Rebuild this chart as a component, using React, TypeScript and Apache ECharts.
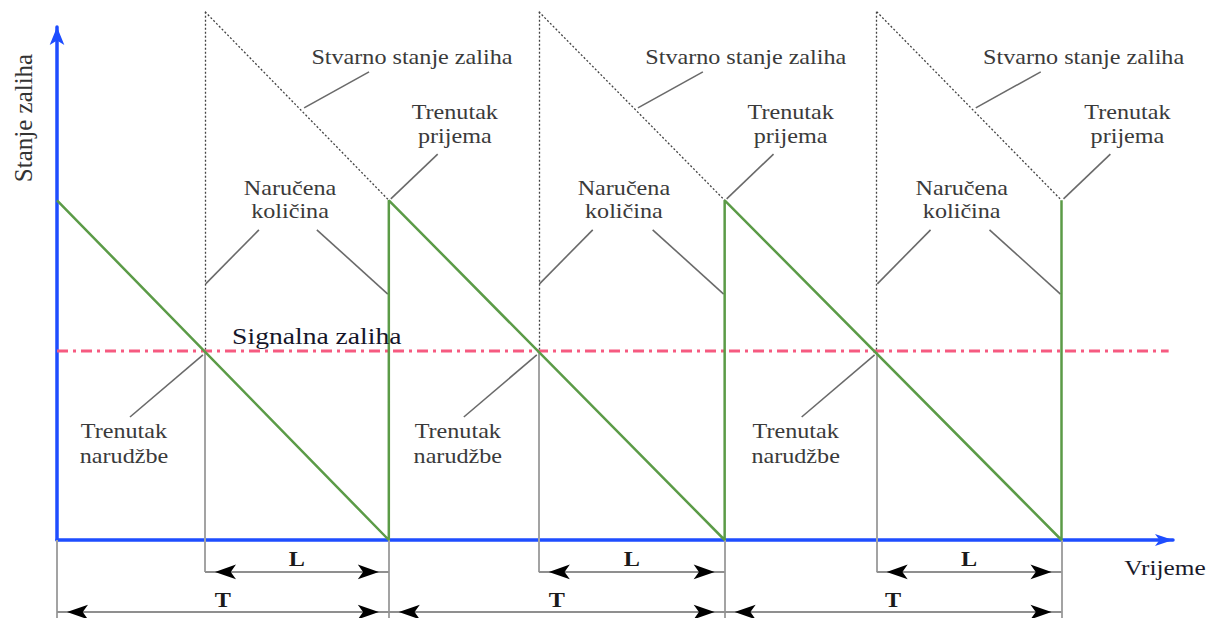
import React, { useEffect, useRef } from "react";
import * as echarts from "echarts";

// ---- data ----
const cycleStart = [0, 0.991, 1.994];
const cycleEnd = [0.991, 1.994, 3.0];
const orderTime = [0.442, 1.439, 2.448];
const orderQty = 100; // stock right after receipt
const reorderLevel = 55.6; // "Signalna zaliha"
const positionAfterOrder = 155.5; // stock + ordered quantity at order moment
const signalLineEnd = 3.32;
const xMax = 3.333;
const yMax = 151;
const leadArrowY = -9.4;
const cycleArrowY = -21.2;
const dimBottomY = -23;

// ---- texts ----
const yTitle = "Stanje zaliha";
const xTitle = "Vrijeme";
const txtActual = "Stvarno stanje zaliha";
const txtReceipt = ["Trenutak", "prijema"];
const txtOrdered = ["Naručena", "količina"];
const txtOrderMoment = ["Trenutak", "narudžbe"];
const txtSignal = "Signalna zaliha";
const txtLead = "L";
const txtCycle = "T";

const SERIF = "Liberation Serif, serif";

export default function App() {
  const ref = useRef<HTMLDivElement>(null);

  useEffect(() => {
    const chart = echarts.init(ref.current!, null, { renderer: "svg" });

    const green: number[][] = [[cycleStart[0], orderQty]];
    cycleEnd.forEach((e) => {
      green.push([e, 0]);
      green.push([e, orderQty]);
    });

    const dotted: any[] = [];
    const solidGray: any[] = [];
    const leaders: any[] = [];
    const dims: any[] = [];
    const leftHeads: number[][] = [];
    const rightHeads: number[][] = [];

    cycleStart.forEach((s, i) => {
      const o = orderTime[i];
      const e = cycleEnd[i];
      dotted.push({ coords: [[o, positionAfterOrder], [o, reorderLevel]] });
      dotted.push({ coords: [[o, positionAfterOrder], [e, orderQty]] });
      solidGray.push({ coords: [[o, reorderLevel], [o, leadArrowY]] });
      solidGray.push({ coords: [[s, 0], [s, dimBottomY]] });
      solidGray.push({ coords: [[e, 0], [e, dimBottomY]] });
      leaders.push({ coords: [[o + 0.49, 137.8], [o + 0.296, 127.2]] });
      leaders.push({ coords: [[e + 0.146, 113.6], [e + 0.006, 100.4]] });
      leaders.push({ coords: [[o + 0.161, 91.3], [o + 0.002, 75.4]] });
      leaders.push({ coords: [[e - 0.215, 91.3], [e - 0.003, 72.4]] });
      leaders.push({ coords: [[o - 0.224, 36.2], [o - 0.006, 54.5]] });
      dims.push({ coords: [[o, leadArrowY], [e, leadArrowY]] });
      dims.push({ coords: [[s, cycleArrowY], [e, cycleArrowY]] });
      leftHeads.push([o, leadArrowY], [s, cycleArrowY]);
      rightHeads.push([e, leadArrowY], [e, cycleArrowY]);
    });

    const linesSeries = (data: any[], color: string, width: number, type: any, z = 2) => ({
      type: "lines",
      coordinateSystem: "cartesian2d",
      clip: false,
      silent: true,
      z,
      symbol: "none",
      lineStyle: { color, width, type, opacity: 1, curveness: 0 },
      data,
    });

    const blue = "#1e4dff";

    chart.setOption({
      animation: false,
      grid: { left: 57, right: 44, top: 27, bottom: 78 },
      xAxis: {
        type: "value",
        min: 0,
        max: xMax,
        axisLine: {
          show: true,
          onZero: false,
          symbol: ["none", "arrow"],
          symbolSize: [9, 18],
          lineStyle: { color: blue, width: 3.5 },
        },
        axisTick: { show: false },
        axisLabel: { show: false },
        splitLine: { show: false },
      },
      yAxis: {
        type: "value",
        min: 0,
        max: yMax,
        axisLine: {
          show: true,
          onZero: false,
          symbol: ["none", "arrow"],
          symbolSize: [11, 18],
          lineStyle: { color: blue, width: 3.5 },
        },
        axisTick: { show: false },
        axisLabel: { show: false },
        splitLine: { show: false },
      },
      series: [
        linesSeries(solidGray, "#a3a3a3", 2, "solid", 1),
        linesSeries(dotted, "#444444", 1.3, [2, 2], 1),
        linesSeries(leaders, "#6a6a6a", 1.6, "solid", 1),
        linesSeries(dims, "#8f8f8f", 2, "solid", 1),
        {
          type: "line",
          data: [[0, reorderLevel], [signalLineEnd, reorderLevel]],
          symbol: "none",
          silent: true,
          z: 3,
          lineStyle: { color: "#f65a80", width: 3, type: [11, 5, 3, 5] },
        },
        {
          type: "line",
          data: green,
          symbol: "none",
          silent: true,
          z: 4,
          lineStyle: { color: "#5b9b47", width: 2.5 },
        },
        {
          type: "scatter",
          data: rightHeads,
          symbol: "arrow",
          symbolSize: [11, 21],
          symbolRotate: -90,
          symbolOffset: [-10, 0],
          clip: false,
          silent: true,
          z: 5,
          itemStyle: { color: "#000000", opacity: 1 },
        },
        {
          type: "scatter",
          data: leftHeads,
          symbol: "arrow",
          symbolSize: [11, 21],
          symbolRotate: 90,
          symbolOffset: [10, 0],
          clip: false,
          silent: true,
          z: 5,
          itemStyle: { color: "#000000", opacity: 1 },
        },
      ],
    });

    const px = (x: number, y: number) =>
      chart.convertToPixel({ xAxisIndex: 0, yAxisIndex: 0 }, [x, y]) as number[];

    const txt = (
      text: string,
      p: number[],
      opts: { size?: number; fill?: string; weight?: string; align?: string; sx?: number } = {}
    ) => ({
      type: "text",
      x: p[0],
      y: p[1],
      scaleX: opts.sx ?? 1.15,
      silent: true,
      z: 10,
      style: {
        text,
        fontSize: opts.size ?? 21,
        fontFamily: SERIF,
        fontWeight: opts.weight ?? "normal",
        fill: opts.fill ?? "#3a3a3a",
        align: opts.align ?? "center",
        verticalAlign: "middle",
      },
    });

    const graphics: any[] = [];
    cycleStart.forEach((s, i) => {
      const o = orderTime[i];
      const e = cycleEnd[i];
      graphics.push(txt(txtActual, px(o + 0.618, 142.2)));
      graphics.push(txt(txtReceipt[0], px(e + 0.197, 126.0)));
      graphics.push(txt(txtReceipt[1], px(e + 0.197, 118.9)));
      graphics.push(txt(txtOrdered[0], px(o + 0.254, 103.6)));
      graphics.push(txt(txtOrdered[1], px(o + 0.254, 96.8)));
      graphics.push(txt(txtOrderMoment[0], px(o - 0.242, 32.1)));
      graphics.push(txt(txtOrderMoment[1], px(o - 0.242, 24.7)));
      graphics.push(
        txt(txtLead, px((o + e) / 2, -5.3), { size: 22, weight: "bold", fill: "#1a1a1a", sx: 1.1 })
      );
      graphics.push(
        txt(txtCycle, px((s + e) / 2, -17.4), { size: 22, weight: "bold", fill: "#1a1a1a", sx: 1.1 })
      );
    });
    graphics.push(
      txt(txtSignal, px(0.523, 60.1), { size: 24, fill: "#15152a", align: "left" })
    );
    graphics.push({
      type: "text",
      x: 1165,
      y: 568,
      scaleX: 1.15,
      silent: true,
      style: {
        text: xTitle,
        fontSize: 22,
        fontFamily: SERIF,
        fill: "#1a1a2a",
        align: "center",
        verticalAlign: "middle",
      },
    });
    graphics.push({
      type: "text",
      x: 23,
      y: 118,
      rotation: Math.PI / 2,
      silent: true,
      style: {
        text: yTitle,
        fontSize: 25,
        fontFamily: SERIF,
        fill: "#333333",
        align: "center",
        verticalAlign: "middle",
      },
    });

    chart.setOption({ graphic: graphics });

    return () => chart.dispose();
  }, []);

  return (
    <div
      ref={ref}
      style={{ position: "fixed", left: 0, top: 0, width: 1217, height: 618, background: "#ffffff" }}
    />
  );
}
